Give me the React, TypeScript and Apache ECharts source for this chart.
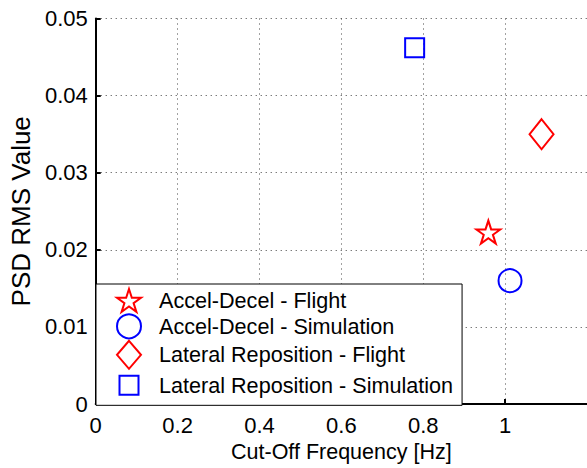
import React, { useEffect, useRef } from "react";
import * as echarts from "echarts";

const seriesNames = [
  "Accel-Decel - Flight",
  "Accel-Decel - Simulation",
  "Lateral Reposition - Flight",
  "Lateral Reposition - Simulation",
];
const seriesColors = ["#ff0000", "#0000ff", "#ff0000", "#0000ff"];
const accelFlight = [[0.959, 0.0223]];
const accelSim = [[1.012, 0.016]];
const lateralFlight = [[1.089, 0.035]];
const lateralSim = [[0.779, 0.0462]];
const xTicks = [0, 1.2, 0.2];
const yTicks = [0, 0.05, 0.01];

const STAR =
  "path://M0,-10 L2.245,-3.09 L9.51,-3.09 L3.633,1.18 L5.878,8.09 L0,3.82 L-5.878,8.09 L-3.633,1.18 L-9.51,-3.09 L-2.245,-3.09 Z";
const DIAMOND_LEG = "path://M12,0 L24,14 L12,28 L0,14 Z";
const SQUARE_LEG = "path://M0,0 M24,28 M2.5,4.5 L21.5,4.5 L21.5,23.5 L2.5,23.5 Z";
const CIRCLE_LEG = "circle";

const FONT = "Liberation Sans, Arial, sans-serif";

export default function App() {
  const ref = useRef<HTMLDivElement>(null);
  useEffect(() => {
    if (!ref.current) return;
    const chart = echarts.init(ref.current, undefined, { renderer: "svg" });
    const hollow = (c: string) => ({
      color: "rgba(0,0,0,0)",
      borderColor: c,
      borderWidth: 2,
      opacity: 1,
    });
    const datasets = [accelFlight, accelSim, lateralFlight, lateralSim];
    const symbols = [STAR, "circle", "diamond", "rect"];
    const sizes: any[] = [[24, 23], 23, [24, 30], 19];
    const legIcons = [STAR, CIRCLE_LEG, DIAMOND_LEG, SQUARE_LEG];
    chart.setOption({
      animation: false,
      textStyle: { fontFamily: FONT },
      grid: { left: 93, right: 0, top: 18.5, bottom: 58.5, containLabel: false },
      xAxis: {
        type: "value",
        min: xTicks[0],
        max: xTicks[1],
        interval: xTicks[2],
        name: "Cut-Off Frequency [Hz]",
        nameLocation: "middle",
        nameGap: 33,
        nameTextStyle: { fontSize: 21.5, color: "#000", fontFamily: FONT },
        axisLine: { show: true, lineStyle: { color: "#000", width: 2 } },
        axisTick: { show: true, inside: true, length: 5, lineStyle: { color: "#000", width: 2 } },
        axisLabel: {
          fontSize: 22,
          color: "#000",
          margin: 10,
          showMaxLabel: false,
          fontFamily: FONT,
        },
        splitLine: { show: true, lineStyle: { color: "#444", type: [1, 4], width: 1 } },
      },
      yAxis: {
        type: "value",
        min: yTicks[0],
        max: yTicks[1],
        interval: yTicks[2],
        name: "PSD RMS Value",
        nameLocation: "middle",
        nameGap: 58,
        nameTextStyle: { fontSize: 26, color: "#000", fontFamily: FONT },
        axisLine: { show: true, lineStyle: { color: "#000", width: 2 } },
        axisTick: { show: true, inside: true, length: 5, lineStyle: { color: "#000", width: 2 } },
        axisLabel: { fontSize: 22, color: "#000", margin: 8, fontFamily: FONT },
        splitLine: { show: true, lineStyle: { color: "#444", type: [1, 4], width: 1 } },
      },
      legend: {
        orient: "vertical",
        left: 96,
        top: 284,
        padding: [4, 9, 5, 20],
        itemWidth: 24,
        itemHeight: 28,
        itemGap: 0.5,
        backgroundColor: "#fff",
        borderColor: "#000",
        borderWidth: 1,
        borderRadius: 0,
        symbolKeepAspect: true,
        textStyle: { fontSize: 21.6, color: "#000", fontFamily: FONT, padding: [0, 0, 0, 13] },
        data: seriesNames.map((n, i) => ({
          name: n,
          icon: legIcons[i],
          itemStyle: hollow(seriesColors[i]),
        })),
      },
      series: seriesNames.map((n, i) => ({
        name: n,
        type: "scatter",
        data: datasets[i],
        symbol: symbols[i],
        symbolSize: sizes[i],
        itemStyle: hollow(seriesColors[i]),
        emphasis: { disabled: true },
        z: 3,
      })),
    });
    return () => chart.dispose();
  }, []);
  return (
    <div
      ref={ref}
      style={{ position: "fixed", left: 0, top: 0, width: 587, height: 468, background: "#fff" }}
    />
  );
}
